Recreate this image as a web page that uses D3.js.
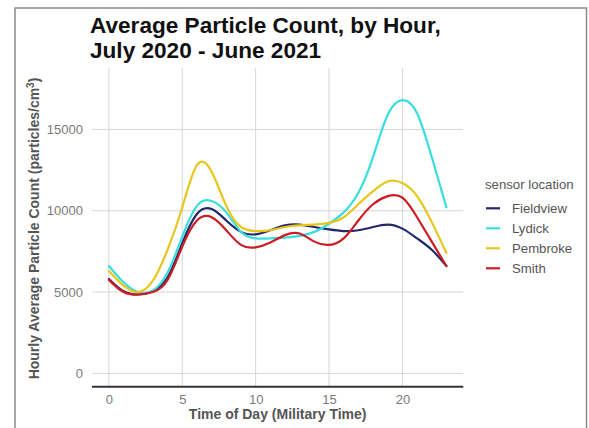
<!DOCTYPE html>
<html><head><meta charset="utf-8">
<script src="https://cdn.jsdelivr.net/npm/d3@7"></script>
<style>body{margin:0;background:#fff}svg{display:block;font-family:"Liberation Sans",Arial,sans-serif}</style>
</head><body><svg id="c" width="589" height="428"></svg>
<script>
const hours = d3.range(0, 24);
const seriesNames = ["Fieldview", "Lydick", "Pembroke", "Smith"];
const fieldview = [5800,5050,4850,5050,5900,8000,9800,10100,9400,8700,8550,8800,9100,9150,9000,8850,8750,8800,9000,9150,8900,8300,7600,6600];
const lydick    = [6600,5600,5000,5100,6200,8400,10300,10600,9900,8700,8300,8300,8350,8450,8700,9200,9900,11100,13300,15900,16800,16000,13300,10200];
const pembroke  = [6300,5400,5000,5700,7600,10200,12800,12400,10300,9000,8750,8800,9000,9100,9150,9250,9600,10400,11200,11800,11700,10900,9300,7400];
const smith     = [5750,5000,4850,5000,5750,7800,9400,9600,8800,7900,7750,8050,8500,8600,8100,7900,8300,9400,10400,10900,10800,9600,8100,6600];
const seriesValues = [fieldview, lydick, pembroke, smith];
const xTicks = [0, 5, 10, 15, 20];
const yTicks = [0, 5000, 10000, 15000];
const colors = ["#22286b", "#38dede", "#e8c61c", "#cc1c24"];

const svg = d3.select("#c");
const L = 92, R = 463.3, T = 68, B = 386.7;
const x = d3.scaleLinear().domain([-1.15, 24.15]).range([L, R]);
const y = d3.scaleLinear().domain([-820, 18776]).range([B, T]);
const FONT = "Liberation Sans, Arial, sans-serif";

// outer frame
svg.append("rect").attr("x", 15).attr("y", 8).attr("width", 571.5).attr("height", 440)
  .attr("fill", "none").attr("stroke", "#8a8a8a").attr("stroke-width", 1.5);

// gridlines
const g = svg.append("g");
g.selectAll(".vx").data(xTicks).join("line")
  .attr("x1", d => x(d)).attr("x2", d => x(d)).attr("y1", T).attr("y2", B)
  .attr("stroke", "#d6d6d6").attr("stroke-width", 1);
g.selectAll(".hy").data(yTicks).join("line")
  .attr("x1", L).attr("x2", R).attr("y1", d => y(d)).attr("y2", d => y(d))
  .attr("stroke", "#d6d6d6").attr("stroke-width", 1);

// axes
const xAxis = svg.append("g").attr("transform", `translate(0,${B})`)
  .call(d3.axisBottom(x).tickValues(xTicks).tickSize(0).tickPadding(8));
xAxis.select(".domain").attr("stroke", "#333").attr("stroke-width", 2).attr("d", `M${L},0H${R}`);
xAxis.selectAll("text").attr("fill", "#7a7a7a").attr("font-size", 13).attr("font-family", FONT);

const yAxis = svg.append("g").attr("transform", `translate(${L},0)`)
  .call(d3.axisLeft(y).tickValues(yTicks).tickSize(0).tickPadding(9).tickFormat(d3.format("d")));
yAxis.select(".domain").remove();
yAxis.selectAll("text").attr("fill", "#7a7a7a").attr("font-size", 13).attr("font-family", FONT);

// lines
const line = d3.line().x((d, i) => x(hours[i])).y(d => y(d)).curve(d3.curveNatural);
svg.append("g").selectAll("path").data(seriesValues).join("path")
  .attr("d", d => line(d)).attr("fill", "none")
  .attr("stroke", (d, i) => colors[i]).attr("stroke-width", 2.2)
  .attr("stroke-linejoin", "round").attr("stroke-linecap", "round");

// title
const title = svg.append("text").attr("font-size", 22.6).attr("font-weight", "bold").attr("fill", "#111");
title.append("tspan").attr("x", 90).attr("y", 33).text("Average Particle Count, by Hour,");
title.append("tspan").attr("x", 90).attr("y", 58).text("July 2020 - June 2021");

// axis titles
svg.append("text").attr("x", (L + R) / 2).attr("y", 418.5).attr("text-anchor", "middle")
  .attr("font-size", 14).attr("font-weight", "bold").attr("fill", "#555")
  .text("Time of Day (Military Time)");
const yl = svg.append("text").attr("transform", `translate(39,228.5) rotate(-90)`)
  .attr("text-anchor", "middle").attr("font-size", 14).attr("font-weight", "bold").attr("fill", "#555");
yl.append("tspan").text("Hourly Average Particle Count (particles/cm");
yl.append("tspan").attr("dy", -5.5).attr("font-size", 10).text("3");
yl.append("tspan").attr("dy", 5.5).text(")");

// legend
const lg = svg.append("g");
lg.append("text").attr("x", 485).attr("y", 189).attr("font-size", 13.2).attr("fill", "#555").text("sensor location");
const items = lg.selectAll(".it").data(seriesNames).join("g")
  .attr("transform", (d, i) => `translate(0,${208.3 + i * 20})`);
items.append("line").attr("x1", 486).attr("x2", 500).attr("y1", 0).attr("y2", 0)
  .attr("stroke", (d, i) => colors[i]).attr("stroke-width", 2.2);
items.append("text").attr("x", 512).attr("y", 4.6).attr("font-size", 13.2).attr("fill", "#555").text(d => d);
</script></body></html>
